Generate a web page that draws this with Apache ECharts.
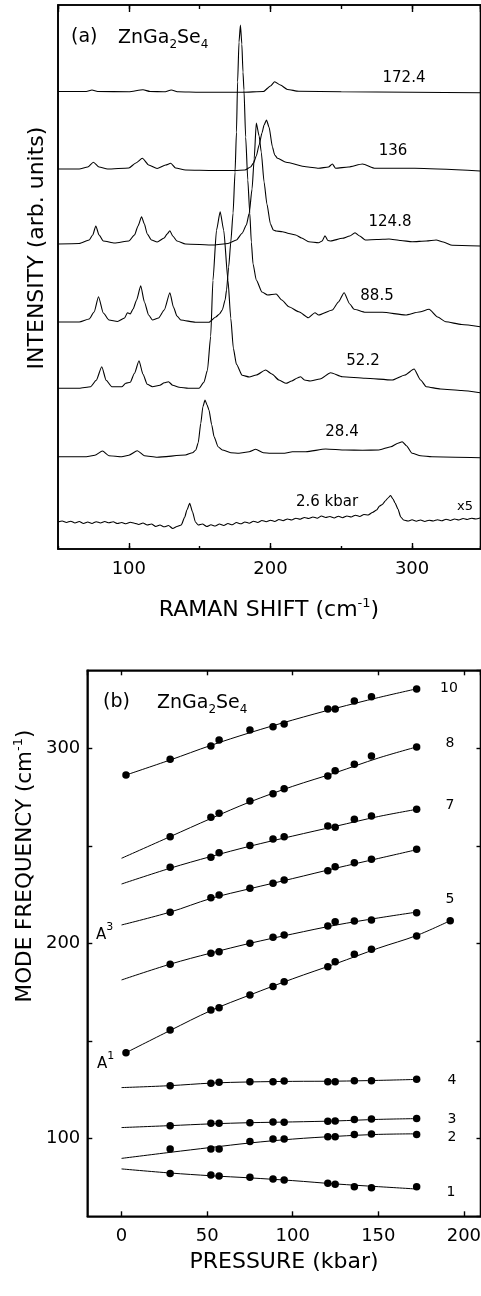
<!DOCTYPE html>
<html><head><meta charset="utf-8">
<script src="https://cdn.jsdelivr.net/npm/echarts@6/dist/echarts.min.js"></script>
<style>html,body{margin:0;padding:0;background:#fff}#c{width:481px;height:1296px}</style>
</head><body><div id="c"></div>
<script>
// ---------- Panel (a): Raman spectra, [Raman shift (cm-1), intensity above own baseline] ----------
const spectrumLabels = ['172.4', '136', '124.8', '88.5', '52.2', '28.4', '2.6 kbar'];
const baselineOffsets = [457.5, 380, 305, 227, 160.7, 92.3, 27];
const spec_172_4 = [[50,0],[70,0],[74,1.5],[78,0],[100,-0.3],[110,1.7],[115,0],[125,-0.3],[130,1.5],[135,-0.3],[150,-0.8],[180,-0.8],[195,0],[200,5.5],[203,9.8],[207,6.5],[212,2],[220,0.2],[250,-0.3],[300,-0.7],[348,-1.3]];
const spec_136 = [[50,0],[65,0],[71,2],[75,6.7],[79,2],[85,0],[100,1],[105,6],[109.6,10.7],[114,4],[120,0.5],[126,4],[129.6,5.7],[133,1],[140,-1],[160,-1.5],[175,-1.5],[182,-1],[186,2],[188,6],[190,13],[192,24],[194,36],[195.5,44],[197.2,49],[199,42],[201.4,22],[203,14],[205,10.7],[211,6.7],[225,2.3],[234,0.7],[241,2],[243.7,5],[246,0.7],[255,2],[265,5],[274,0.7],[302,0.7],[348,-2]];
const spec_124_8 = [[50,0],[65,0.5],[72,4],[74.5,9],[76.7,18],[79,9],[82,3],[90,1],[100,3],[104,9],[106.5,18],[109,27.3],[111,20],[113,10],[116,4],[120,2],[125,6],[127,10],[129,13.3],[131,8],[134,3],[140,0],[160,-1],[170,0.5],[176,4],[180,10.7],[183,19],[185,30.7],[187,55],[188.5,85],[190,121],[192,108],[193.5,92],[195.5,62],[197.5,40],[200,20],[202,14],[204,13],[208.4,12.3],[213,10.5],[217.8,9],[222,6],[227,2.3],[234,1.3],[236.5,3],[238.5,8.3],[240.5,3.5],[242.5,3],[250.8,5.7],[256,8],[259.7,11.3],[263,8],[267,4],[275,4.5],[283.7,5],[292,3.5],[300,2.3],[310,3],[317,4],[322,2],[328.4,-1.3],[348,-2]];
const spec_88_5 = [[50,0],[65,0],[72,3],[75.5,10],[78.6,25.3],[82,9],[86,2],[92,0.5],[97,4],[99,9.3],[101,8],[103,13],[105.5,22],[108.4,36.3],[111,20],[114,7],[116.7,2],[121,4],[125,12],[129,29.3],[131.5,15],[134,6],[136.7,2],[147,-0.3],[156.6,-0.3],[161.4,5],[164,8],[166,12],[168,22],[169,32],[170.5,55],[172,80],[173.6,109],[175,150],[176,190],[176.8,240],[177.8,280],[178.8,297],[179.8,278],[180.6,250],[181.3,232],[182.5,185],[184,142],[185.4,109],[186.5,80],[187.7,58],[190,42],[194,30],[198,27],[204,28],[208,22],[213,15.3],[220,10.3],[226.8,4.3],[231.4,9.3],[234,7],[243.7,12],[248,20],[252,29.3],[256,18],[259,12.7],[267,9.7],[279,9.7],[295.4,7],[305,10],[312,12.7],[318,5],[323.7,0.3],[335,-2.5],[348,-4.7]];
const spec_52_2 = [[50,0],[65,0],[73,1.5],[77,8],[80.9,21.6],[84,8],[88,1.5],[95,1.5],[97.8,5],[101,6],[104,15],[107.2,27.6],[110,14],[113,4],[116.7,1.6],[122,3],[125,5.5],[128,6.6],[131,3],[135.5,1],[142,0],[149.6,0],[153,6],[155.5,18],[157.8,52],[159.4,108],[161.9,158],[164.5,176.6],[167,158],[170,108],[172,70],[173.8,40],[176,24],[180,13],[185,11.3],[190,13.3],[196.6,18.3],[201,14.3],[206,8.3],[211,5],[215,7.3],[219,10.3],[221.3,11.6],[224,8.3],[228,7.3],[235,9.3],[242.5,15.6],[250.8,11.6],[267,10],[286,8.3],[295,13.3],[301.4,19.3],[306,8.3],[310,1.6],[320,-0.7],[335,-2.2],[348,-4.4]];
const spec_28_4 = [[50,0],[70,0],[76,1.5],[81.4,5.7],[86,1],[95,0],[100,1.5],[106,6],[111,1],[120,-0.5],[140,1.7],[145,4],[147.3,6.7],[149,14],[150.8,33.4],[152.3,50],[153.8,56.7],[155.2,52],[156.6,46.7],[158.5,32],[160.2,20],[163,10],[166,6.7],[172,4],[177.8,3.4],[185,5],[189.6,7.4],[195,4],[200,3.4],[210,3.5],[215.5,5],[225,5],[239,7.7],[253,6.7],[265,6.5],[276.6,6.7],[285,10],[290,13.5],[293,15],[296,11],[300,3.4],[306,1],[314,0],[348,-1]];
const spec_2_6 = [[50,0],[53,1],[56,-0.5],[59,0.8],[62,-1],[65,0.5],[68,-1.5],[71,0],[74,-1.5],[77,0.3],[80,-1],[83,0.5],[86,-0.8],[89,0.2],[92,-1.5],[95,-0.5],[98,-1.8],[101,-0.3],[104,-1.2],[107,-2.5],[110,-1],[113,-3],[116,-2],[119,-4.5],[122,-3],[125,-4.8],[128,-3.5],[131,-6.5],[134,-4.5],[137,-3],[139.5,5],[141,12],[143,18.7],[145,10],[147,0],[149,-3],[152,-2],[155,-4.5],[158,-2.8],[161,-4],[164,-2],[167,-3.5],[170,-1.5],[173,-2.8],[176,-0.5],[179,-1.8],[182,0],[185,-1.2],[188,0.8],[191,-0.5],[194,1.5],[197,0.3],[200,1.8],[203,0.5],[206,2.5],[209,1.3],[212,3],[215,2],[218,3.8],[221,2.8],[224,4.5],[227,3.5],[230,5],[233,3.8],[236,6],[239,4.5],[242,5.5],[245,4],[248,5.8],[251,4.3],[254,6],[257,5],[260,6.8],[263,5.5],[266,7.5],[269,7],[272,9.5],[275,12],[277,16],[279,17.5],[281,21],[283,24],[284.8,26.5],[286.5,23],[288,19],[290,13],[292,5],[294,2],[297,1],[300,2.2],[303,0.8],[306,2],[309,0.5],[312,1.8],[315,1],[318,2.3],[321,1.2],[324,2.8],[327,1.5],[330,3],[333,2],[336,3.5],[339,2.5],[342,3.8],[345,3],[348,4]];
const spectra = [spec_172_4, spec_136, spec_124_8, spec_88_5, spec_52_2, spec_28_4, spec_2_6];
const ramanLabels = [100, 200, 300];

// ---------- Panel (b): mode frequency vs pressure ----------
const pressure = [2.6, 28.4, 52.2, 57, 75, 88.5, 95, 120.5, 124.8, 136, 146, 172.4];
const mode10 = [286.3, 294.4, 301.2, 304.3, 309.4, 311.1, 312.5, 320.2, 320.2, 324.3, 326.5, 330.4];
const mode8  = [null, 254.7, 264.6, 266.7, 273, 276.7, 279.3, 285.8, 288.5, 291.8, 296, 300.7];
const mode7  = [null, 239, 244.1, 246.5, 250.1, 253.5, 254.7, 260.2, 259.5, 263.6, 265.3, 268.7];
const modeA3 = [null, 215.9, 223.4, 224.8, 228.2, 230.8, 232.5, 237.2, 239.3, 241.3, 243.1, 248.2];
const mode5  = [null, 189.2, 194.9, 195.7, 200, 203.1, 204.3, 208.9, 211.1, 211.5, 212, 215.7];
const modeA1 = [143.9, 155.5, 165.8, 167, 173.5, 177.8, 180.3, 188, 190.6, 194.4, 196.9, 203.7];
const modeA1_extraP = [192];
const modeA1_extraV = [211.6];
const mode4  = [null, 127, 128.2, 128.7, 129, 129, 129.4, 129, 129, 129.5, 129.5, 130.3];
const mode3  = [null, 106.5, 107.7, 107.7, 108, 108.4, 108.2, 108.7, 108.9, 109.7, 109.9, 110.1];
const mode2  = [null, 94.5, 94.5, 94.5, 98.3, 99.6, 99.6, 100.8, 100.8, 102, 102.2, 102];
const mode1  = [null, 82, 81.2, 80.7, 80, 79.1, 78.6, 76.9, 76.5, 75.2, 74.7, 75.2];
// fitted curves
const fitP    = [0, 28.4, 52.2, 75, 100, 125, 150, 172.4];
const fitP10  = [2.6, 28.4, 52.2, 75, 100, 125, 150, 172.4];
const fitPA1  = [2.6, 28.4, 52.2, 75, 100, 125, 150, 172.4, 192];
const fit10 = [286.3, 294, 301.5, 308, 314.5, 320.5, 326, 330.5];
const fit8  = [243.6, 254.7, 264, 272.5, 280.5, 287.5, 295, 300.7];
const fit7  = [230.4, 238.5, 244.5, 249.8, 255, 260, 265, 268.7];
const fitA3 = [209.4, 216, 223, 228, 233.2, 238.5, 243.5, 248];
const fit5  = [181.2, 189.3, 195, 200, 204.8, 209.3, 213, 216];
const fitA1 = [143.9, 155.3, 165.5, 173.5, 181.8, 189.5, 197.5, 204, 211.6];
const fit4  = [126, 127, 128.3, 128.9, 129.2, 129.3, 129.7, 130.2];
const fit3  = [105.5, 106.5, 107.4, 108, 108.4, 108.9, 109.7, 110.1];
const fit2  = [89.7, 92.8, 95.3, 97.6, 99.6, 101, 102, 102.3];
const fit1  = [84.3, 82.2, 80.8, 79.7, 78.3, 76.6, 75.2, 74];
const pressureLabels = [0, 50, 100, 150, 200];
const freqLabels = [100, 200, 300];

// ---------- build ----------
const F = 'DejaVu Sans';
const K = '#000';
const chart = echarts.init(document.getElementById('c'), null, {renderer: 'canvas'});

function ax(o) {
  const shown = o.labels || [];
  return {
    type: 'value', gridIndex: o.grid, position: o.pos, min: o.min, max: o.max,
    minInterval: o.step, maxInterval: o.step,
    axisLine: {show: o.line !== false, onZero: false, lineStyle: {color: K, width: 1.6}},
    axisTick: {show: o.len > 0, inside: true, length: o.len || 0, lineStyle: {color: K, width: 1.4}},
    axisLabel: {show: shown.length > 0, color: K, fontFamily: F, fontSize: 18, margin: o.margin || 10,
      showMinLabel: false, showMaxLabel: false,
      formatter: v => (shown.indexOf(Math.round(v * 1000) / 1000) >= 0 ? String(v) : '')},
    splitLine: {show: false}, minorTick: {show: false}, minorSplitLine: {show: false}
  };
}

const xAxes = [
  ax({grid: 0, pos: 'bottom', min: 50, max: 348.3, step: 100, len: 6, labels: ramanLabels, margin: 11}),
  ax({grid: 0, pos: 'bottom', min: 50, max: 348.3, step: 50, len: 3, line: false}),
  ax({grid: 0, pos: 'top', min: 50, max: 348.3, step: 100, len: 7}),
  ax({grid: 0, pos: 'top', min: 50, max: 348.3, step: 50, len: 4, line: false}),
  ax({grid: 1, pos: 'bottom', min: -20, max: 209.7, step: 50, len: 5, labels: pressureLabels, margin: 11}),
  ax({grid: 1, pos: 'top', min: -20, max: 209.7, step: 50, len: 5})
];
const yAxes = [
  ax({grid: 0, pos: 'left', min: 0, max: 544, step: 100, len: 0}),
  ax({grid: 0, pos: 'right', min: 0, max: 544, step: 100, len: 0}),
  ax({grid: 1, pos: 'left', min: 60, max: 340, step: 50, len: 5, labels: freqLabels, margin: 7}),
  ax({grid: 1, pos: 'right', min: 60, max: 340, step: 50, len: 4})
];

const series = [];
spectra.forEach((s, i) => {
  series.push({
    type: 'line', xAxisIndex: 0, yAxisIndex: 0, symbol: 'none', showSymbol: false,
    smooth: 0.2, smoothMonotone: 'x',
    data: s.map(p => [p[0], p[1] + baselineOffsets[i]]),
    lineStyle: {color: K, width: 1.1}, silent: true, animation: false, z: 3
  });
});
function fitSeries(px, vals) {
  series.push({
    type: 'line', xAxisIndex: 4, yAxisIndex: 2, symbol: 'none', showSymbol: false, smooth: 0.35,
    data: px.map((p, i) => [p, vals[i]]),
    lineStyle: {color: K, width: 1}, silent: true, animation: false, z: 3
  });
}
function pointSeries(vals, extraP, extraV) {
  const d = [];
  pressure.forEach((p, i) => { if (vals[i] != null) d.push([p, vals[i]]); });
  if (extraP) extraP.forEach((p, i) => d.push([p, extraV[i]]));
  series.push({
    type: 'scatter', xAxisIndex: 4, yAxisIndex: 2, symbol: 'circle', symbolSize: 7.5,
    data: d, itemStyle: {color: K, opacity: 1}, silent: true, animation: false, z: 4
  });
}
fitSeries(fitP10, fit10); pointSeries(mode10);
fitSeries(fitP, fit8); pointSeries(mode8);
fitSeries(fitP, fit7); pointSeries(mode7);
fitSeries(fitP, fitA3); pointSeries(modeA3);
fitSeries(fitP, fit5); pointSeries(mode5);
fitSeries(fitPA1, fitA1); pointSeries(modeA1, modeA1_extraP, modeA1_extraV);
fitSeries(fitP, fit4); pointSeries(mode4);
fitSeries(fitP, fit3); pointSeries(mode3);
fitSeries(fitP, fit2); pointSeries(mode2);
fitSeries(fitP, fit1); pointSeries(mode1);

function txt(x, y, text, size, align) {
  return {
    type: 'text', x: x, y: y, silent: true, z: 10,
    style: {text: text, fontFamily: F, fontSize: size, fill: K, align: align || 'center', verticalAlign: 'middle'}
  };
}
function richTxt(x, y, text, size, align, rotation, supSize) {
  return {
    type: 'text', x: x, y: y, rotation: rotation || 0, silent: true, z: 10,
    style: {
      text: text, fontFamily: F, fontSize: size, fill: K, align: align, verticalAlign: 'middle',
      rich: {
        n: {fontFamily: F, fontSize: size, fill: K, lineHeight: 26, verticalAlign: 'middle'},
        s: {fontFamily: F, fontSize: Math.round(size * 0.62), fill: K, lineHeight: 14, verticalAlign: 'bottom'},
        u: {fontFamily: F, fontSize: supSize || Math.round(size * 0.6), fill: K, lineHeight: 18, verticalAlign: 'top'}
      }
    }
  };
}

const annPos = [[404, 78], [393, 151], [390, 222], [377, 296], [363, 361], [342, 432], [327, 502]];
const graphics = [];
spectrumLabels.forEach((t, i) => graphics.push(txt(annPos[i][0], annPos[i][1], t, 15)));
graphics.push(txt(465, 507, 'x5', 13));
graphics.push(txt(71, 37, '(a)', 19, 'left'));
graphics.push(richTxt(118, 38, '{n|ZnGa}{s|2}{n|Se}{s|4}', 19, 'left'));
graphics.push(txt(103, 702, '(b)', 19, 'left'));
graphics.push(richTxt(157, 703, '{n|ZnGa}{s|2}{n|Se}{s|4}', 19, 'left'));
graphics.push(richTxt(269, 610, '{n|RAMAN SHIFT (cm}{u|-1}{n|)}', 22, 'center'));
graphics.push(txt(284, 1262, 'PRESSURE (kbar)', 22));
graphics.push(richTxt(37.5, 248, '{n|INTENSITY (arb. units)}', 22, 'center', Math.PI / 2));
graphics.push(richTxt(25.5, 866, '{n|MODE FREQUENCY (cm}{u|-1}{n|)}', 21.5, 'center', Math.PI / 2));
const modeNames = ['10', '8', '7', '5', '4', '3', '2', '1'];
const modeNamePos = [[449, 688], [450, 743], [450, 805], [450, 899], [452, 1080], [452, 1119], [452, 1137], [451, 1192]];
modeNames.forEach((t, i) => graphics.push(txt(modeNamePos[i][0], modeNamePos[i][1], t, 14)));
graphics.push(richTxt(96, 935, '{n|A}{u|3}', 15, 'left', 0, 11));
graphics.push(richTxt(97, 1064, '{n|A}{u|1}', 15, 'left', 0, 11));

chart.setOption({
  animation: false,
  backgroundColor: '#fff',
  grid: [
    {left: 58, top: 5, width: 422.5, height: 544, containLabel: false, outerBoundsMode: 'none',
     show: true, borderColor: K, borderWidth: 1.6, backgroundColor: 'transparent'},
    {left: 87.3, top: 670.3, width: 393.2, height: 546, containLabel: false, outerBoundsMode: 'none',
     show: true, borderColor: K, borderWidth: 1.6, backgroundColor: 'transparent'}
  ],
  xAxis: xAxes,
  yAxis: yAxes,
  series: series,
  graphic: graphics
});
</script></body></html>
